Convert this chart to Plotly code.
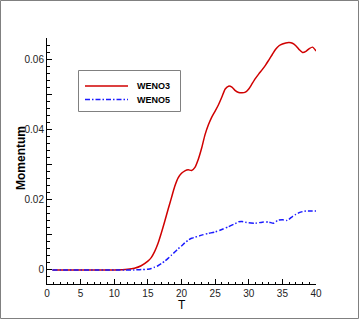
import plotly.graph_objects as go

# ---- data ----
t_weno3 = [0.8, 10, 12, 13, 14, 15, 15.5, 16, 16.5, 17, 17.5, 18, 18.5, 19, 19.5, 20, 20.5, 21, 21.5,
           22, 22.5, 23, 23.5, 24, 24.5, 25, 25.5, 26, 26.5, 27, 27.5, 28, 28.5, 29, 29.5, 30, 30.5,
           31, 31.5, 32, 32.5, 33, 33.5, 34, 34.5, 35, 35.5, 36, 36.5, 37, 37.5, 38, 38.5, 39, 39.5, 40]
m_weno3 = [0, 0, 0.0002, 0.0005, 0.0012, 0.0025, 0.0035, 0.0052, 0.0075, 0.0105, 0.0138, 0.0172,
           0.0205, 0.0238, 0.0262, 0.0275, 0.0282, 0.0285, 0.0283, 0.0292, 0.0315, 0.0347, 0.0385,
           0.0413, 0.0435, 0.0452, 0.047, 0.0492, 0.0515, 0.0523, 0.052, 0.051, 0.0505, 0.0504,
           0.0506, 0.0515, 0.053, 0.0545, 0.0558, 0.057, 0.0583, 0.0598, 0.0613, 0.0628, 0.0638,
           0.0643, 0.0646, 0.0647, 0.0645, 0.0638, 0.0627, 0.0619, 0.0622, 0.063, 0.0634, 0.0623]

t_weno5 = [0.8, 13, 14, 15, 15.5, 16, 16.5, 17, 17.5, 18, 18.5, 19, 19.5, 20, 20.5, 21, 21.5, 22,
           23, 24, 25, 26, 27, 28, 28.5, 29, 29.5, 30, 31, 32, 33, 33.7, 34.3, 35, 35.7, 36.5, 37,
           37.5, 38, 38.5, 39, 40]
m_weno5 = [0, 0, 0.0001, 0.0002, 0.0004, 0.0008, 0.0012, 0.0018, 0.0025, 0.0033, 0.0042, 0.0051,
           0.006, 0.0068, 0.0077, 0.0085, 0.009, 0.0093, 0.0099, 0.0104, 0.0108, 0.0115, 0.0123,
           0.0132, 0.0137, 0.0138, 0.0136, 0.0134, 0.0133, 0.0136, 0.0136, 0.0133, 0.0141, 0.0143,
           0.0141, 0.0152, 0.0158, 0.0163, 0.0166, 0.0168, 0.0168, 0.0168]

series_names = ["WENO3", "WENO5"]
series_colors = ["#d00000", "#1a1aff"]
series_dash = ["solid", "5px,2px,1.5px,2px"]
y_tickvals = [0, 0.01, 0.02, 0.03, 0.04, 0.05, 0.06]
y_ticktext = ["0", "", "0.02", "", "0.04", "", "0.06"]
x_tickvals = [0, 5, 10, 15, 20, 25, 30, 35, 40]
x_title = "T"
y_title = "Momentum"

FONT = "Arial, Liberation Sans, Helvetica, sans-serif"
W, H = 360, 320
ML, MR, MT, MB = 47, 44, 38, 36
PW, PH = W - ML - MR, H - MT - MB


def px_x(x):  # pixel -> paper
    return (x - ML) / PW


def px_y(y):
    return (H - MB - y) / PH


fig = go.Figure()
for t, m, name, col, dash in zip([t_weno3, t_weno5], [m_weno3, m_weno5], series_names,
                                 series_colors, series_dash):
    fig.add_trace(go.Scatter(x=t, y=m, mode="lines", name=name, showlegend=False,
                             hoverinfo="skip",
                             line=dict(color=col, width=1.5, dash=dash,
                                       shape="spline", smoothing=0.6)))

shapes = [
    # outer frame
    dict(type="rect", xref="paper", yref="paper",
         x0=px_x(0.5), x1=px_x(W - 1.5), y0=px_y(H - 1.5), y1=px_y(0.5),
         line=dict(color="#808080", width=1), fillcolor="rgba(0,0,0,0)", layer="below"),
    # legend box
    dict(type="rect", xref="paper", yref="paper",
         x0=px_x(78.5), x1=px_x(180.5), y0=px_y(111.5), y1=px_y(70.5),
         line=dict(color="#808080", width=1), fillcolor="white", layer="above"),
]
annotations = []
for i, (name, col, dash) in enumerate(zip(series_names, series_colors, series_dash)):
    yy = 86 + i * 13.5
    shapes.append(dict(type="line", xref="paper", yref="paper",
                       x0=px_x(85), x1=px_x(128), y0=px_y(yy), y1=px_y(yy),
                       line=dict(color=col, width=1.5, dash=dash), layer="above"))
    annotations.append(dict(xref="paper", yref="paper", x=px_x(135), y=px_y(yy),
                            xanchor="left", yanchor="middle", showarrow=False, text=name,
                            font=dict(family=FONT, size=9, color="black", weight="bold")))

annotations.append(dict(xref="paper", yref="paper", x=0.5, y=px_y(305), xanchor="center",
                        yanchor="middle", showarrow=False, text=x_title, borderpad=0,
                        font=dict(family=FONT, size=12, color="black")))
annotations.append(dict(xref="paper", yref="paper", x=px_x(21), y=px_y(158), xanchor="center",
                        yanchor="middle", showarrow=False, text=y_title, textangle=-90,
                        font=dict(family=FONT, size=12, color="black", weight="bold")))

fig.update_layout(
    width=W, height=H,
    margin=dict(l=ML, r=MR, t=MT, b=MB, autoexpand=False),
    paper_bgcolor="white", plot_bgcolor="white",
    font=dict(family=FONT, color="black", size=10),
    showlegend=False,
    hovermode=False,
    xaxis=dict(range=[0, 40], tickmode="array", tickvals=x_tickvals, automargin=False,
               ticks="inside", ticklen=5, tickwidth=1, tickcolor="black",
               showline=True, linecolor="black", linewidth=1, mirror=False,
               showgrid=False, zeroline=False,
               tickfont=dict(size=10, color="#222"),
               minor=dict(tickmode="linear", tick0=0, dtick=1, ticks="inside",
                          ticklen=2, tickcolor="black", showgrid=False)),
    yaxis=dict(range=[-0.004, 0.066], tickmode="array", tickvals=y_tickvals, ticktext=y_ticktext,
               automargin=False,
               ticks="inside", ticklen=5, tickwidth=1, tickcolor="black",
               showline=True, linecolor="black", linewidth=1, mirror=False,
               showgrid=False, zeroline=False,
               tickfont=dict(size=10, color="#222"),
               minor=dict(tickmode="linear", tick0=0, dtick=0.002, ticks="inside",
                          ticklen=3, tickcolor="black", showgrid=False)),
    shapes=shapes,
    annotations=annotations,
)

fig.write_html("out.html", config={"displayModeBar": False},
               post_script="document.body.style.margin='0';document.body.style.padding='0';"
                           "document.documentElement.style.overflow='hidden';")
